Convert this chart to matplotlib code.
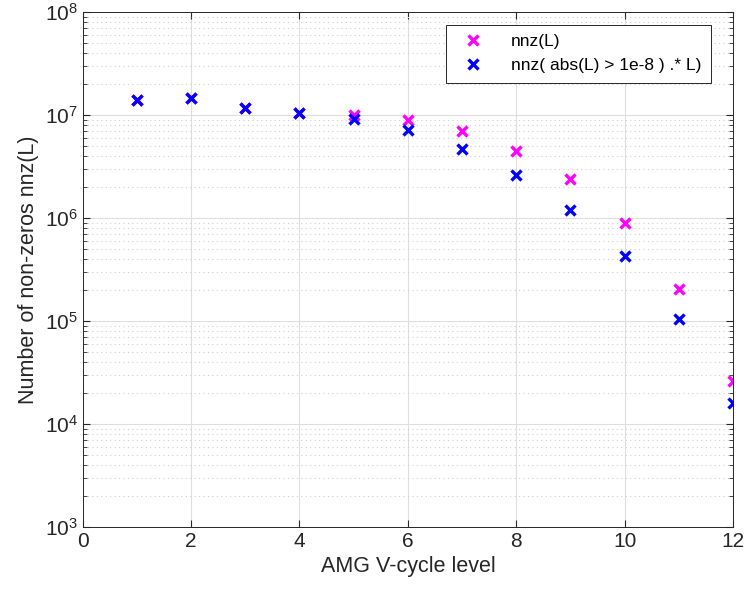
import matplotlib.pyplot as plt
from matplotlib.ticker import LogLocator, NullFormatter

plt.rcParams['font.family'] = ['Liberation Sans', 'DejaVu Sans']
plt.rcParams['mathtext.fontset'] = 'custom'
plt.rcParams['mathtext.rm'] = 'Liberation Sans'

# data
levels = [1, 2, 3, 4, 5, 6, 7, 8, 9, 10, 11, 12]
nnz_L = [1.38e7, 1.46e7, 1.17e7, 1.04e7, 0.99e7, 8.9e6, 6.9e6, 4.5e6,
         2.4e6, 9.0e5, 2.04e5, 2.6e4]
nnz_tol = [1.38e7, 1.46e7, 1.17e7, 1.04e7, 9.1e6, 7.2e6, 4.7e6, 2.58e6,
           1.2e6, 4.3e5, 1.04e5, 1.58e4]

fig = plt.figure(figsize=(7.45, 5.92), dpi=100)
ax = fig.add_axes([0.111, 0.110, 0.873, 0.870])

ax.semilogy(levels, nnz_L, 'x', color='#ff00ff', markersize=6.5, markeredgewidth=2.4,
            linestyle='none', label='nnz(L)')
ax.semilogy(levels, nnz_tol, 'x', color='#0000ff', markersize=6.5, markeredgewidth=2.4,
            linestyle='none', label='nnz( abs(L) > 1e-8 ) .* L)')

ax.set_xlim(0, 12)
ax.set_ylim(1e3, 1e8)
ax.set_xticks(range(0, 13, 2))
ax.yaxis.set_major_locator(LogLocator(base=10, numticks=10))
ax.yaxis.set_minor_locator(LogLocator(base=10, subs=range(2, 10), numticks=20))
ax.yaxis.set_minor_formatter(NullFormatter())

ax.grid(True, which='major', color='#dedede', linewidth=0.8)
ax.grid(True, which='minor', axis='y', color='#cfcfcf', linestyle=(0, (1, 3)), linewidth=0.8)
ax.set_axisbelow(True)

ax.tick_params(which='both', direction='in', top=True, right=True, labelsize=15, colors='#262626')
ax.tick_params(which='major', length=5)
ax.tick_params(which='minor', length=3)
for s in ax.spines.values():
    s.set_color('#262626')
    s.set_linewidth(0.7)

ax.set_xlabel('AMG V-cycle level', fontsize=15.5, color='#262626')
ax.set_ylabel('Number of non-zeros nnz(L)', fontsize=15.5, color='#262626')

leg = ax.legend(loc='upper right', bbox_to_anchor=(0.966, 0.975), borderaxespad=0,
                fontsize=12.5, fancybox=False, edgecolor='#262626', framealpha=1,
                handletextpad=1.2, borderpad=0.55, labelspacing=0.5, handlelength=2.0)
leg.get_frame().set_linewidth(0.7)

fig.savefig('out.png', dpi=100)
